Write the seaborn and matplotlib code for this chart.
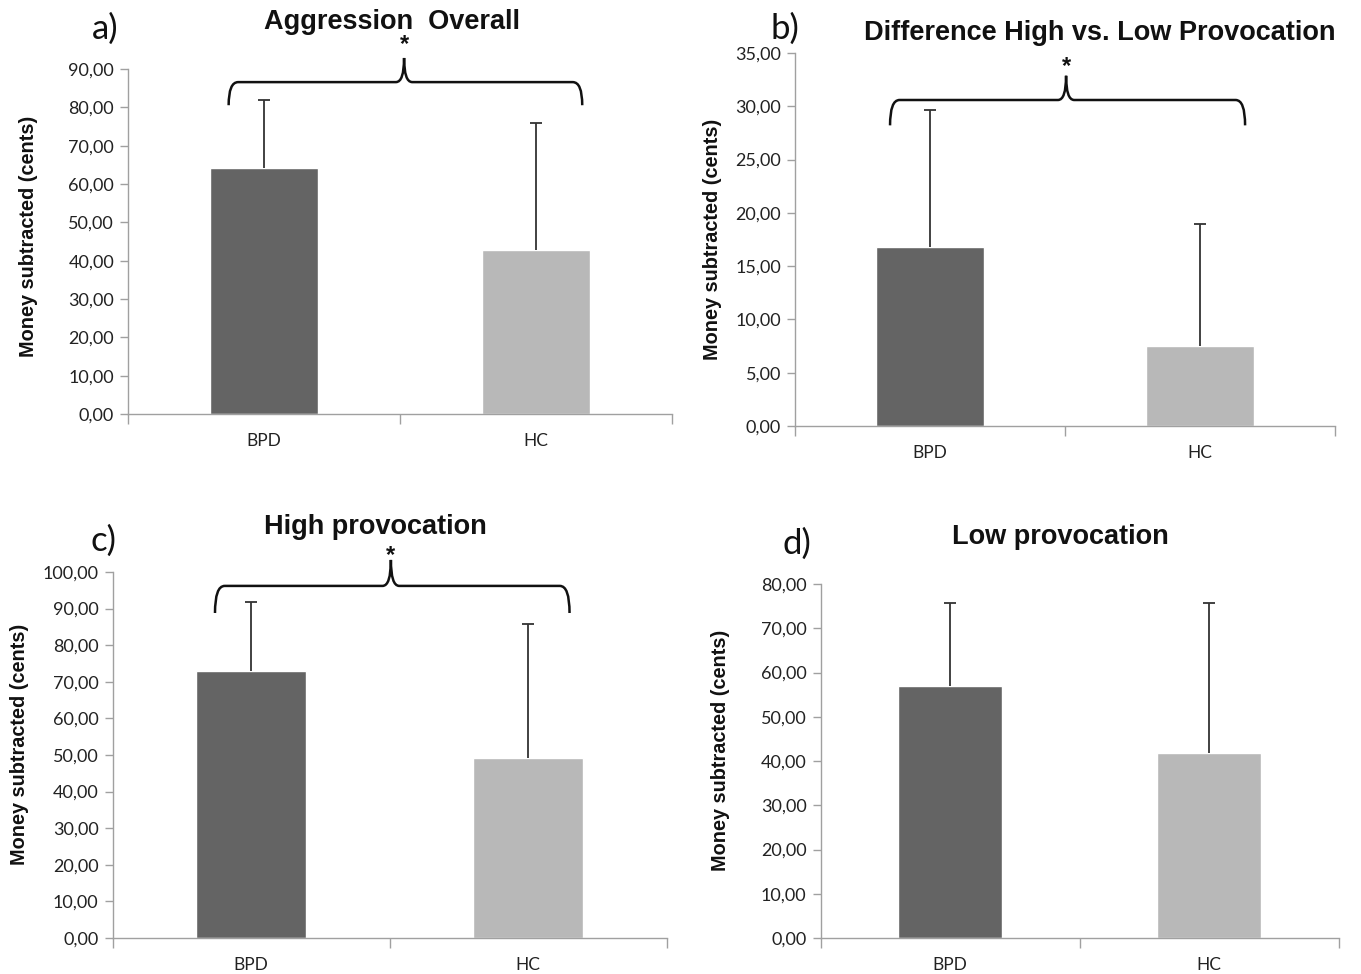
import numpy as np
import pandas as pd
import seaborn as sns
import matplotlib.pyplot as plt
from matplotlib.path import Path
from matplotlib.patches import PathPatch
from matplotlib.ticker import FuncFormatter, MultipleLocator

# ---- data ----
groups = ["BPD", "HC"]
titles = ["Aggression  Overall", "Difference High vs. Low Provocation",
          "High provocation", "Low provocation"]
panel_labels = ["a)", "b)", "c)", "d)"]
means_a = [64.3, 42.8]
err_a = [17.5, 33.0]
means_b = [16.75, 7.54]
err_b = [12.9, 11.43]
means_c = [73.0, 49.2]
err_c = [18.8, 36.7]
means_d = [57.0, 41.7]
err_d = [18.6, 33.9]
ymax = [90, 35, 100, 80]
ystep = [10, 5, 10, 10]
significant = [True, True, True, False]
ylabel = "Money subtracted (cents)"

bar_colors = ["#646464", "#b8b8b8"]

sns.set_theme(style="white")
plt.rcParams['font.family'] = ['Lato', 'DejaVu Sans']

W, H = 1361, 974
fig = plt.figure(figsize=(W / 100, H / 100), dpi=100)

def px_rect(left, right, top, bottom):
    return [left / W, 1 - bottom / H, (right - left) / W, (bottom - top) / H]

rects = [px_rect(128, 672, 69, 414),
         px_rect(795, 1335, 53, 426),
         px_rect(112.5, 666.5, 572, 938),
         px_rect(820.5, 1338.5, 584, 938)]
ylabel_pos = [(-0.165, 0.516), (-0.135, 0.501), (-0.151, 0.53), (-0.175, 0.531)]
title_pos = [(392, 22), (1100, 33), (375, 527), (1060, 537)]
label_pos = [(105, 29), (785, 29), (104, 541), (797, 544)]
# brace geometry (relative to axes: x in data units, y as fraction of ymax)
brace_x = [(-0.13, 1.17, 0.515), (-0.148, 1.167, 0.504), (-0.13, 1.15, 0.505), None]
brace_y = [(0.895, 0.962, 1.032, 1.0696), (0.806, 0.874, 0.939, 0.9625),
           (0.888, 0.962, 1.033, 1.045), None]

all_means = [means_a, means_b, means_c, means_d]
all_errs = [err_a, err_b, err_c, err_d]

fmt = FuncFormatter(lambda v, p: f"{v:.2f}".replace(".", ","))
spine_c = "#a0a0a0"

for i in range(4):
    ax = fig.add_axes(rects[i])
    df = pd.DataFrame({"group": groups, "value": all_means[i]})
    sns.barplot(data=df, x="group", y="value", hue="group", palette=bar_colors,
                width=0.4, ax=ax, legend=False, saturation=1, errorbar=None)
    eb = ax.errorbar(range(len(groups)), all_means[i],
                     yerr=[np.zeros(len(groups)), all_errs[i]],
                     fmt="none", ecolor="#333333", elinewidth=1.3, capsize=4.5,
                     capthick=1.3, zorder=3)
    # keep only the upper caps (Excel "plus" error bars)
    caps = eb.lines[1]
    if len(caps) == 2:
        caps[0].set_visible(False)
    ax.set_xlim(-0.5, 1.5)
    ax.set_ylim(0, ymax[i])
    ax.yaxis.set_major_locator(MultipleLocator(ystep[i]))
    ax.yaxis.set_major_formatter(fmt)
    ax.set_xticks([0, 1])
    ax.set_xticklabels(groups)
    ax.set_xticks([-0.5, 0.5, 1.5], minor=True)
    ax.tick_params(axis="x", which="major", length=0, pad=14, labelsize=12.5, labelcolor="#222222")
    ax.tick_params(axis="x", which="minor", length=7, width=1, color=spine_c, direction="out", bottom=True)
    ax.tick_params(axis="y", which="major", length=6, width=1, color=spine_c, direction="out",
                   left=True, pad=4, labelsize=13, labelcolor="#222222")
    for s in ["top", "right"]:
        ax.spines[s].set_visible(False)
    for s in ["left", "bottom"]:
        ax.spines[s].set_color(spine_c)
        ax.spines[s].set_linewidth(1)
    ax.set_xlabel("")
    ax.set_ylabel(ylabel, fontsize=14.3, fontweight="bold", family=["Liberation Sans", "DejaVu Sans"],
                  color="#111111")
    ax.yaxis.set_label_coords(*ylabel_pos[i])

    fig.text(title_pos[i][0] / W, 1 - title_pos[i][1] / H, titles[i], ha="center", va="center",
             fontsize=19.5, fontweight="bold", family=["Liberation Sans", "DejaVu Sans"], color="#111111")
    fig.text(label_pos[i][0] / W, 1 - label_pos[i][1] / H, panel_labels[i], ha="center", va="center",
             fontsize=25, color="#111111")

    if significant[i]:
        x0, x1, xm = brace_x[i]
        ye, yh, yt, ys = [f * ymax[i] for f in brace_y[i]]
        dx = 0.035
        dxm = 0.03
        verts = [(x0, ye), (x0, yh), (x0 + dx, yh),
                 (xm - dxm, yh),
                 (xm, yh), (xm, yt),
                 (xm, yh), (xm + dxm, yh),
                 (x1 - dx, yh),
                 (x1, yh), (x1, ye)]
        codes = [Path.MOVETO, Path.CURVE3, Path.CURVE3,
                 Path.LINETO,
                 Path.CURVE3, Path.CURVE3,
                 Path.CURVE3, Path.CURVE3,
                 Path.LINETO,
                 Path.CURVE3, Path.CURVE3]
        patch = PathPatch(Path(verts, codes), facecolor="none", edgecolor="#111111",
                          lw=1.8, clip_on=False, zorder=4)
        ax.add_patch(patch)
        ax.text(xm, ys, "*", ha="center", va="center", fontsize=17, fontweight="bold",
                family=["Liberation Sans", "DejaVu Sans"], color="#111111", clip_on=False)

fig.savefig("out.png", dpi=100, facecolor="white")
